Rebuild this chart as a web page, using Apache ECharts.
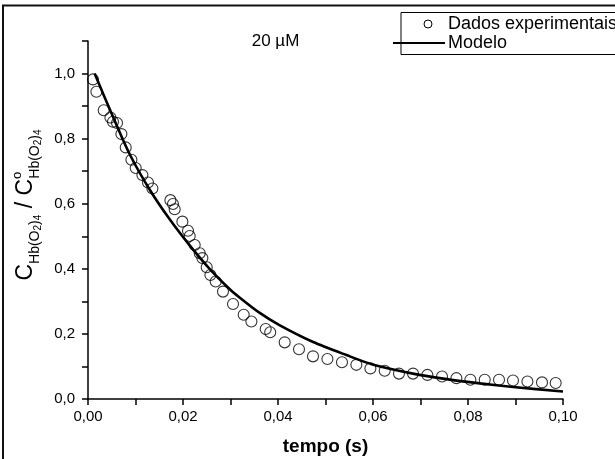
<!DOCTYPE html>
<html>
<head>
<meta charset="utf-8">
<script src="https://cdn.jsdelivr.net/npm/echarts@6/dist/echarts.min.js"></script>
<style>html,body{margin:0;padding:0;background:#fff;}#c{width:615px;height:459px;}</style>
</head>
<body>
<div id="c"></div>
<script>
// Experimental data (tempo in s, normalized concentration)
const tExp = [0.00105,0.00177,0.00331,0.00472,0.00526,0.00611,0.00703,0.00794,0.00914,0.01004,0.01145,0.01263,0.01356,0.01735,0.01789,0.01825,0.01987,0.02105,0.02141,0.02246,0.02352,0.02408,0.02499,0.02577,0.02688,0.02842,0.03053,0.03278,0.03440,0.03741,0.03836,0.04141,0.04442,0.04737,0.0504,0.05347,0.0565,0.05945,0.06246,0.06547,0.06842,0.07145,0.07453,0.07756,0.0805,0.08352,0.08653,0.08947,0.09251,0.09558,0.09846];
const vExp = [0.982,0.944,0.887,0.865,0.852,0.848,0.814,0.773,0.735,0.710,0.688,0.665,0.647,0.611,0.599,0.583,0.545,0.517,0.501,0.473,0.448,0.433,0.405,0.381,0.361,0.330,0.292,0.259,0.238,0.215,0.205,0.174,0.153,0.131,0.123,0.113,0.105,0.094,0.087,0.078,0.078,0.074,0.069,0.064,0.059,0.059,0.059,0.057,0.054,0.051,0.049];
// Model curve
const tModel = [0.0014,0.00526,0.00878,0.0130,0.0172,0.0214,0.0256,0.0298,0.0319,0.0360,0.0403,0.0474,0.0544,0.0599,0.0684,0.0755,0.0825,0.0895,0.1];
const vModel = [1.0,0.867,0.752,0.643,0.552,0.472,0.400,0.338,0.312,0.266,0.227,0.175,0.135,0.106,0.078,0.061,0.048,0.037,0.023];
// Tick labels
const xTickLabels = ['0,00','','0,02','','0,04','','0,06','','0,08','','0,10'];
const yTickLabels = ['0,0','','0,2','','0,4','','0,6','','0,8','','1,0',''];
const seriesNames = ['Dados experimentais','Modelo'];
const titleText = '20 \u00B5M';
const xName = 'tempo (s)';

const FONT = '"Liberation Sans", Arial, sans-serif';
const chart = echarts.init(document.getElementById('c'), null, {renderer:'canvas'});

// y-axis title pieces: [text, fontSize, dy, weight]
const yTitlePieces = [
  ['C',23,0,'normal'],
  ['Hb(O',14,9,'normal'],['2',10,12,'normal'],[')',14,9,'normal'],['4',10,12,'normal'],
  [' / ',23,0,'normal'],
  ['C',23,0,'normal'],['o',13,-9,'normal'],
  ['Hb(O',14,9,'normal'],['2',10,12,'normal'],[')',14,9,'normal'],['4',10,12,'normal']
];
const ctx = document.createElement('canvas').getContext('2d');
let cur = 0;
const yTitleChildren = [];
yTitlePieces.forEach((p, i) => {
  ctx.font = p[3] + ' ' + p[1] + 'px ' + FONT;
  const w = ctx.measureText(p[0]).width;
  let x = cur;
  if (i === 8) { x = cur - 7; }
  yTitleChildren.push({
    type:'text', x:x, y:p[2],
    style:{text:p[0], fontSize:p[1], fontWeight:p[3], fontFamily:FONT, fill:'#000', verticalAlign:'middle', align:'left'}
  });
  cur = x + w;
});
const yTitleLen = cur;

const option = {
  animation:false,
  backgroundColor:'#fff',
  grid:{left:88, top:41, width:475, height:358, outerBoundsMode:'none', containLabel:false},
  xAxis:{
    type:'value', min:0, max:0.1, interval:0.01,
    name:xName, nameLocation:'middle', nameGap:38,
    nameTextStyle:{fontSize:19, fontWeight:'bold', color:'#000', fontFamily:FONT},
    axisLine:{lineStyle:{color:'#000', width:1.5}},
    axisTick:{show:true, inside:false, length:6, lineStyle:{color:'#000', width:1.5}},
    axisLabel:{margin:10, fontSize:15, color:'#000', fontFamily:FONT, formatter:(v,i)=>xTickLabels[i] ?? '', showMaxLabel:true, showMinLabel:true},
    splitLine:{show:false}
  },
  yAxis:{
    type:'value', min:0, max:1.1, interval:0.1,
    axisLine:{lineStyle:{color:'#000', width:1.5}},
    axisTick:{show:true, inside:false, length:6, lineStyle:{color:'#000', width:1.5}},
    axisLabel:{margin:13, fontSize:15, color:'#000', fontFamily:FONT, formatter:(v,i)=>yTickLabels[i] ?? '', showMaxLabel:true, showMinLabel:true},
    splitLine:{show:false}
  },
  series:[
    {
      name:seriesNames[0], type:'scatter', symbol:'circle', symbolSize:11, z:2,
      itemStyle:{color:'rgba(255,255,255,0)', borderColor:'#000', borderWidth:1.1},
      data:tExp.map((t,i)=>[t, vExp[i]])
    },
    {
      name:seriesNames[1], type:'line', smooth:0.25, showSymbol:false, z:3,
      lineStyle:{color:'#000', width:2.6},
      data:tModel.map((t,i)=>[t, vModel[i]])
    }
  ],
  graphic:[
    {type:'rect', shape:{x:3, y:5.5, width:700, height:600}, style:{fill:'none', stroke:'#111', lineWidth:2}, silent:true},
    {type:'text', x:275.5, y:41, style:{text:titleText, fontSize:17, fontFamily:FONT, fill:'#000', align:'center', verticalAlign:'middle'}},
    {type:'rect', shape:{x:401, y:12.5, width:300, height:42}, style:{fill:'#fff', stroke:'#000', lineWidth:1}},
    {type:'circle', shape:{cx:428, cy:24, r:4}, style:{fill:'none', stroke:'#000', lineWidth:1}},
    {type:'line', shape:{x1:393, y1:43, x2:445, y2:43}, style:{stroke:'#000', lineWidth:2}},
    {type:'text', x:448, y:24, style:{text:seriesNames[0], fontSize:18, fontFamily:FONT, fill:'#000', align:'left', verticalAlign:'middle'}},
    {type:'text', x:448, y:43, style:{text:seriesNames[1], fontSize:18, fontFamily:FONT, fill:'#000', align:'left', verticalAlign:'middle'}},
    {type:'group', x:26, y:205 + yTitleLen/2, rotation:Math.PI/2, children:yTitleChildren}
  ]
};
chart.setOption(option);
</script>
</body>
</html>
